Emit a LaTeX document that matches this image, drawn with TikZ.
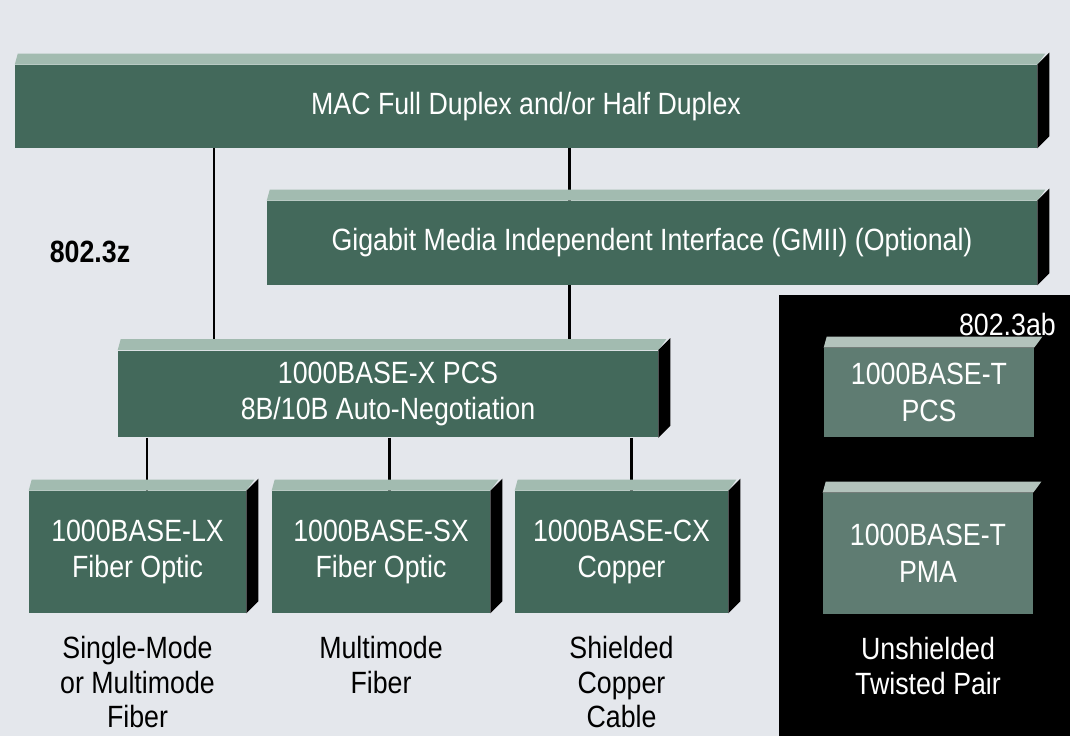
\documentclass[tikz,border=0pt]{standalone}
\usepackage{fontspec}
\setmainfont{Liberation Sans}[FakeStretch=0.87]
\usetikzlibrary{positioning,calc}
\definecolor{paper}{HTML}{E4E7EC}
\definecolor{slab}{HTML}{43695B}
\definecolor{slabtop}{HTML}{A2BBB0}
\definecolor{tslab}{HTML}{5F7C72}
\definecolor{tslabtop}{HTML}{B3C3BC}

% top strip and dark side of a slab node
\newcommand{\bevel}[2]{%
  \fill[#2] (#1.north west) -- ++(3,-11) -- ($(#1.north east)+(8,-11)$) -- (#1.north east) -- cycle;
  \fill[black] (#1.north east) -- ++(12,-12) -- ($(#1.south east)+(12,-12)$) -- (#1.south east) -- cycle;
}

\begin{document}
\begin{tikzpicture}[x=0.02cm, y=-0.02cm,
  font=\fontsize{17.5}{21}\selectfont,
  face/.style={fill=slab, text=white, inner sep=0pt, align=center},
  tface/.style={face, fill=tslab},
  medium/.style={align=center, inner sep=0pt, font=\fontsize{17.5}{19.5}\selectfont},
  link/.style={line width=1.7pt}]
  \fill[paper] (0,0) rectangle (1070,736);
  \useasboundingbox (0,0) rectangle (1070,736);
  \fill[black] (779,295) rectangle (1070,736);

  \node[face, minimum width=20.44cm, minimum height=1.66cm] (mac) at (526,106.5) {MAC Full Duplex and/or Half Duplex};
  \node[face, minimum width=15.4cm, minimum height=1.68cm] (gmii) at (652,243) {Gigabit Media Independent Interface (GMII) (Optional)};
  \node[face, minimum width=10.8cm, minimum height=1.74cm] (xpcs) at (388,394) {1000BASE-X PCS\\8B/10B Auto-Negotiation};
  \node[face, minimum width=4.34cm, minimum height=2.44cm] (lx) at (137.5,552) {1000BASE-LX\\Fiber Optic};
  \node[face, minimum width=4.36cm, minimum height=2.44cm] (sx) at (381,552) {1000BASE-SX\\Fiber Optic};
  \node[face, minimum width=4.26cm, minimum height=2.44cm] (cx) at (621.5,552) {1000BASE-CX\\Copper};
  \node[tface, minimum width=4.2cm, minimum height=1.78cm] (tpcs) at (929,392.5) {1000BASE-T\\PCS};
  \node[tface, minimum width=4.2cm, minimum height=2.42cm] (tpma) at (928,553.5) {1000BASE-T\\PMA};

  \node[medium, below=0.46cm of lx] (lxmed) {Single-Mode\\or Multimode\\Fiber};
  \node[medium, below=0.46cm of sx] (sxmed) {Multimode\\Fiber};
  \node[medium, below=0.46cm of cx] (cxmed) {Shielded\\Copper\\Cable};
  \node[medium, text=white, below=0.46cm of tpma] (tmed) {Unshielded\\Twisted Pair};

  \node[font=\fontsize{17.5}{21}\selectfont\bfseries] (z) at (90,252) {802.3z};
  \node[text=white, anchor=east] (ab) at (1062,325) {802.3ab};

  \draw[link] (mac.south -| 214,0) -- (xpcs.north -| 214,0);
  \draw[link] (mac.south -| 569,0) -- (gmii.north -| 569,0);
  \draw[link] (gmii.south -| 569,0) -- (xpcs.north -| 569,0);
  \draw[link] (xpcs.south -| 147,0) -- (lx.north -| 147,0);
  \draw[link] (xpcs.south -| 389,0) -- (sx.north -| 389,0);
  \draw[link] (xpcs.south -| 631,0) -- (cx.north -| 631,0);

  \bevel{mac}{slabtop}
  \bevel{gmii}{slabtop}
  \bevel{xpcs}{slabtop}
  \bevel{lx}{slabtop}
  \bevel{sx}{slabtop}
  \bevel{cx}{slabtop}
  \bevel{tpcs}{tslabtop}
  \bevel{tpma}{tslabtop}
\end{tikzpicture}
\end{document}
